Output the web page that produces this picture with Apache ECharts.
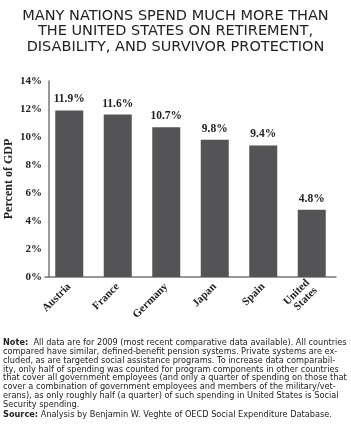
<!DOCTYPE html>
<html>
<head>
<meta charset="utf-8">
<script src="https://cdn.jsdelivr.net/npm/echarts@6/dist/echarts.min.js"></script>
<style>
  html, body { margin: 0; padding: 0; background: #fff; }
  #chart { width: 351px; height: 432px; }
</style>
</head>
<body>
<div id="chart"></div>
<script>
// data
var countries = ["Austria", "France", "Germany", "Japan", "Spain", "United\nStates"];
var spending = [11.9, 11.6, 10.7, 9.8, 9.4, 4.8];
var yTicks = [0, 2, 4, 6, 8, 10, 12, 14];

var titleLines = [
  "MANY NATIONS SPEND MUCH MORE THAN",
  "THE UNITED STATES ON RETIREMENT,",
  "DISABILITY, AND SURVIVOR PROTECTION"
];
var noteLines = [
  "All data are for 2009 (most recent comparative data available). All countries",
  "compared have similar, defined-benefit pension systems. Private systems are ex-",
  "cluded, as are targeted social assistance programs. To increase data comparabil-",
  "ity, only half of spending was counted for program components in other countries",
  "that cover all government employees (and only a quarter of spending on those that",
  "cover a combination of government employees and members of the military/vet-",
  "erans), as only roughly half (a quarter) of such spending in United States is Social",
  "Security spending."
];
var sourceText = "Analysis by Benjamin W. Veghte of OECD Social Expenditure Database.";

var serif = "'Liberation Serif', 'DejaVu Serif', serif";
var sans = "'DejaVu Sans', 'Noto Sans', sans-serif";

var chart = echarts.init(document.getElementById("chart"));

var noteText = "{b|Note:}  " + noteLines.join("\n") + "\n{gap|}\n{b|Source:} " + sourceText;

var option = {
  animation: false,
  title: [
    {
      text: titleLines.join("\n"),
      left: "center",
      top: 8,
      padding: 0,
      textStyle: {
        fontFamily: sans,
        fontSize: 14.5,
        fontWeight: "normal",
        color: "#222",
        lineHeight: 15.6
      }
    },
    {
      text: noteText,
      left: 3,
      top: 338.6,
      padding: 0,
      textStyle: {
        fontFamily: sans,
        fontSize: 8.2,
        fontWeight: "normal",
        color: "#222",
        lineHeight: 8.8,
        rich: {
          b: { fontFamily: sans, fontSize: 8.2, fontWeight: "bold", color: "#222", lineHeight: 8.8 },
          gap: { lineHeight: 1, fontSize: 1 }
        }
      }
    }
  ],
  grid: {
    left: 45,
    top: 81,
    width: 291,
    height: 196,
    outerBoundsMode: "none",
    containLabel: false
  },
  xAxis: {
    type: "category",
    data: countries,
    axisLine: { lineStyle: { color: "#777", width: 1.5 } },
    axisTick: { show: false },
    axisLabel: {
      rotate: 45,
      margin: 8,
      interval: 0,
      fontFamily: serif,
      fontWeight: "bold",
      fontSize: 11,
      color: "#222",
      lineHeight: 11
    }
  },
  yAxis: {
    type: "value",
    min: 0,
    max: 14,
    interval: 2,
    offset: -4,
    name: "Percent of GDP",
    nameLocation: "middle",
    nameRotate: 90,
    nameGap: 34,
    nameMoveOverlap: false,
    nameTextStyle: {
      fontFamily: serif,
      fontWeight: "bold",
      fontSize: 12,
      color: "#222"
    },
    axisLine: { show: true, lineStyle: { color: "#777", width: 1.5 } },
    axisTick: { show: false },
    splitLine: { show: false },
    axisLabel: {
      margin: 7,
      fontFamily: serif,
      fontWeight: "bold",
      fontSize: 11,
      color: "#222",
      formatter: function (v) { return yTicks.indexOf(v) >= 0 ? v + "%" : ""; }
    }
  },
  series: [
    {
      type: "bar",
      data: spending,
      barWidth: 28,
      itemStyle: { color: "#545456" },
      label: {
        show: true,
        position: "top",
        distance: 5,
        fontFamily: serif,
        fontWeight: "bold",
        fontSize: 11.5,
        color: "#222",
        formatter: function (p) { return p.value.toFixed(1) + "%"; }
      }
    }
  ]
};

chart.setOption(option);
</script>
</body>
</html>
